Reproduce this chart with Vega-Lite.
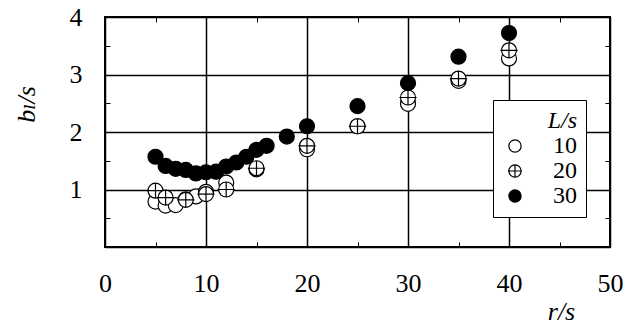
{
  "$schema": "https://vega.github.io/schema/vega-lite/v6.json",
  "width": 505,
  "height": 230,
  "autosize": {"type": "none"},
  "padding": {"left": 105, "top": 17, "right": 31, "bottom": 78},
  "background": "white",
  "config": {
    "font": "Liberation Serif, DejaVu Serif, serif",
    "view": {"stroke": "black", "strokeWidth": 2},
    "axis": {"labelFont": "Liberation Serif, DejaVu Serif, serif", "titleFont": "Liberation Serif, DejaVu Serif, serif", "labelColor": "black", "titleColor": "black"},
    "legend": {"labelFont": "Liberation Serif, DejaVu Serif, serif", "titleFont": "Liberation Serif, DejaVu Serif, serif"}
  },
  "data": {"values": [
    {"r": 5, "b": 0.79, "L": "10"},
    {"r": 6, "b": 0.72, "L": "10"},
    {"r": 7, "b": 0.73, "L": "10"},
    {"r": 8, "b": 0.83, "L": "10"},
    {"r": 9, "b": 0.88, "L": "10"},
    {"r": 10, "b": 0.96, "L": "10"},
    {"r": 12, "b": 1.12, "L": "10"},
    {"r": 15, "b": 1.35, "L": "10"},
    {"r": 20, "b": 1.70, "L": "10"},
    {"r": 25, "b": 2.10, "L": "10"},
    {"r": 30, "b": 2.49, "L": "10"},
    {"r": 35, "b": 2.89, "L": "10"},
    {"r": 40, "b": 3.28, "L": "10"},
    {"r": 5, "b": 0.98, "L": "20"},
    {"r": 6, "b": 0.86, "L": "20"},
    {"r": 8, "b": 0.82, "L": "20"},
    {"r": 10, "b": 0.92, "L": "20"},
    {"r": 12, "b": 1.00, "L": "20"},
    {"r": 15, "b": 1.37, "L": "20"},
    {"r": 20, "b": 1.76, "L": "20"},
    {"r": 25, "b": 2.10, "L": "20"},
    {"r": 30, "b": 2.60, "L": "20"},
    {"r": 35, "b": 2.93, "L": "20"},
    {"r": 40, "b": 3.42, "L": "20"},
    {"r": 5, "b": 1.57, "L": "30"},
    {"r": 6, "b": 1.41, "L": "30"},
    {"r": 7, "b": 1.36, "L": "30"},
    {"r": 8, "b": 1.34, "L": "30"},
    {"r": 9, "b": 1.28, "L": "30"},
    {"r": 10, "b": 1.30, "L": "30"},
    {"r": 11, "b": 1.31, "L": "30"},
    {"r": 12, "b": 1.40, "L": "30"},
    {"r": 13, "b": 1.47, "L": "30"},
    {"r": 14, "b": 1.57, "L": "30"},
    {"r": 15, "b": 1.69, "L": "30"},
    {"r": 16, "b": 1.76, "L": "30"},
    {"r": 18, "b": 1.92, "L": "30"},
    {"r": 20, "b": 2.10, "L": "30"},
    {"r": 25, "b": 2.45, "L": "30"},
    {"r": 30, "b": 2.85, "L": "30"},
    {"r": 35, "b": 3.31, "L": "30"},
    {"r": 40, "b": 3.72, "L": "30"}
  ]},
  "resolve": {"axis": {"x": "independent", "y": "independent"}},
  "layer": [
    {
      "mark": {"type": "point", "filled": true, "size": 225, "strokeWidth": 1.2, "opacity": 1},
      "encoding": {
        "x": {"field": "r", "type": "quantitative", "scale": {"domain": [0, 50], "nice": false, "zero": false},
          "axis": {"orient": "bottom", "values": [0,5,10,15,20,25,30,35,40,45,50], "title": "r/s",
            "titleFontSize": 26, "titleFontStyle": "italic", "titleFontWeight": "normal",
            "titleX": 456, "titleY": 64, "titleAlign": "center", "titleBaseline": "middle", "titleAngle": 0,
            "labelFontSize": 26, "labelPadding": 28, "labelExpr": "datum.value % 10 === 0 ? '' + datum.value : ''",
            "labelFlush": false, "labelOverlap": false,
            "domain": false, "ticks": true, "tickSize": -5, "tickColor": "black", "tickWidth": 1,
            "grid": true, "gridColor": "black", "gridWidth": 1.5,
            "gridOpacity": {"condition": {"test": "datum.value % 10 === 0", "value": 1}, "value": 0}}},
        "y": {"field": "b", "type": "quantitative", "scale": {"domain": [0, 4], "nice": false, "zero": false},
          "axis": {"orient": "left", "values": [0,0.5,1,1.5,2,2.5,3,3.5,4], "title": "bₗ/s",
            "titleFontSize": 26, "titleFontStyle": "italic", "titleFontWeight": "normal",
            "titleX": -79, "titleY": 87, "titleAlign": "center", "titleBaseline": "middle", "titleAngle": -90,
            "labelFontSize": 26, "labelPadding": 28, "labelExpr": "datum.value % 1 === 0 && datum.value > 0 ? '' + datum.value : ''",
            "labelFlush": false, "labelOverlap": false, "labelBaseline": "middle",
            "domain": false, "ticks": true, "tickSize": -5, "tickColor": "black", "tickWidth": 1,
            "grid": true, "gridColor": "black", "gridWidth": 1.5,
            "gridOpacity": {"condition": {"test": "datum.value % 1 === 0", "value": 1}, "value": 0}}},
        "shape": {"field": "L", "type": "nominal",
          "scale": {"domain": ["10", "20", "30"], "range": [
            "M-1,0A1,1 0 1,0 1,0A1,1 0 1,0 -1,0Z",
            "M-1,0A1,1 0 1,0 1,0A1,1 0 1,0 -1,0ZM-1.15,0L1.15,0M0,-1L0,1",
            "M-1,0A1,1 0 1,0 1,0A1,1 0 1,0 -1,0Z"]},
          "legend": {"title": "L/s", "orient": "none", "legendX": 388, "legendY": 83,
            "fillColor": "white", "strokeColor": "black", "padding": 9,
            "titleFontSize": 24, "titleFontStyle": "italic", "titleFontWeight": "normal", "titleColor": "black",
            "titleAnchor": "end", "titlePadding": 1,
            "labelFontSize": 24, "labelColor": "black", "labelOffset": 26,
            "symbolOffset": 1, "symbolSize": 150, "symbolStrokeWidth": 1.2, "rowPadding": 1}},
        "fill": {"field": "L", "type": "nominal",
          "scale": {"domain": ["10", "20", "30"], "range": ["white", "white", "black"]}},
        "stroke": {"field": "L", "type": "nominal",
          "scale": {"domain": ["10", "20", "30"], "range": ["black", "black", "black"]}}
      }
    },
    {
      "mark": {"type": "point", "opacity": 0},
      "encoding": {
        "x": {"field": "r", "type": "quantitative",
          "axis": {"orient": "top", "values": [5,15,25,35,45], "labels": false, "title": null, "domain": false,
            "grid": false, "ticks": true, "tickSize": -5, "tickColor": "black", "tickWidth": 1}},
        "y": {"field": "b", "type": "quantitative",
          "axis": {"orient": "right", "values": [0.5,1.5,2.5,3.5], "labels": false, "title": null, "domain": false,
            "grid": false, "ticks": true, "tickSize": -5, "tickColor": "black", "tickWidth": 1}}
      }
    }
  ]
}
